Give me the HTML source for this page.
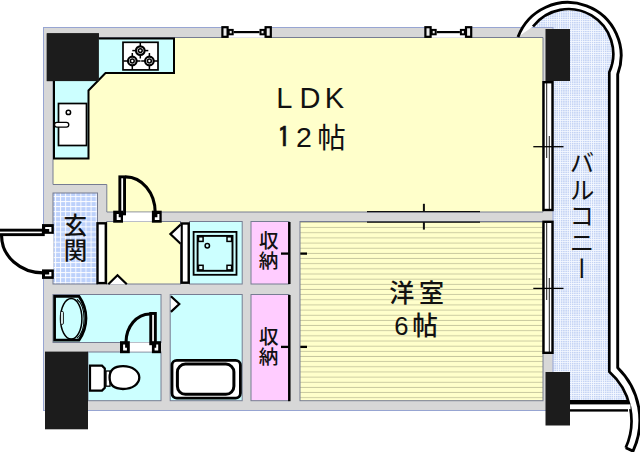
<!DOCTYPE html>
<html lang="ja">
<head>
<meta charset="utf-8">
<title>間取り図 1LDK</title>
<style>
html,body{margin:0;padding:0;background:#fff;}
body{width:640px;height:452px;overflow:hidden;}
svg{display:block;}
text{font-family:"Liberation Sans","Noto Sans CJK JP",sans-serif;fill:#111;}
.k{font-family:"Liberation Sans","Noto Sans CJK JP",sans-serif;font-weight:500;}
</style>
</head>
<body>
<svg width="640" height="452" viewBox="0 0 640 452">
<defs>
  <pattern id="tileB" width="2.2" height="2.2" patternUnits="userSpaceOnUse">
    <rect width="2.2" height="2.2" fill="#f4f8ff"/>
    <rect width="1.4" height="1.4" fill="#c0d0f3"/>
  </pattern>
  <pattern id="tileG" x="55.05" y="195.95" width="5.08" height="5.08" patternUnits="userSpaceOnUse">
    <rect width="5.08" height="5.08" fill="#bdd1fb"/>
    <rect width="0.95" height="5.08" fill="#fbfcff"/><rect width="5.08" height="0.95" fill="#fbfcff"/>
  </pattern>
  <pattern id="floor" x="300" y="222.9" width="10" height="5.155" patternUnits="userSpaceOnUse">
    <rect width="10" height="5.155" fill="#ffffcb"/>
    <rect y="4.25" width="10" height="0.7" fill="#b6b690"/>
  </pattern>
</defs>

<rect width="640" height="452" fill="#fff"/>

<!-- balcony tile -->
<path id="balc" d="M553,401 L553,28 L531,28 A48,48 0 0 1 615,70 L610,78 L610,372 Q622,386 628,401 Z" fill="url(#tileB)"/>

<!-- walls -->
<rect x="43.5" y="27.5" width="509.5" height="383" fill="#d7d7d7" stroke="#97a5d2" stroke-width="1"/>

<!-- rooms -->
<g stroke="#767c92" stroke-width="1">
<path d="M53,37.5 H543 V212 H106.8 V184.5 H53 Z" fill="#ffffcb"/>
<rect x="106.8" y="221.5" width="73.7" height="62.5" fill="#ffffcb"/>
<rect x="53" y="193" width="44.5" height="91" fill="url(#tileG)"/>
<rect x="189.5" y="221.5" width="52.7" height="62.5" fill="#ccffff"/>
<rect x="251" y="221.5" width="38" height="62.5" fill="#ffccff"/>
<rect x="300" y="221.5" width="243" height="179.2" fill="url(#floor)"/>
<rect x="53" y="294.5" width="108" height="48" fill="#ccffff"/>
<rect x="88" y="352" width="73" height="48.7" fill="#ccffff"/>
<rect x="170.2" y="294.5" width="72" height="106.2" fill="#ccffff"/>
<rect x="251" y="294.5" width="38" height="106.2" fill="#ffccff"/>
</g>

<!-- door openings (white) -->
<rect x="43" y="234" width="10.5" height="36" fill="#fff"/>
<rect x="122.5" y="212.5" width="29.5" height="9" fill="#fff"/>
<rect x="129" y="342.5" width="23.5" height="9" fill="#fff"/>

<!-- pillars -->
<g fill="#1c1c1c">
<rect x="46.8" y="33.3" width="52.1" height="47.8"/>
<rect x="45" y="351.6" width="43" height="77.7"/>
<rect x="545.5" y="29" width="24.5" height="52"/>
<rect x="545.5" y="372" width="24.5" height="53.5"/>
</g>

<!-- balcony railing -->
<path d="M518,37 A53.2,53.2 0 1 1 617.7,74.3 L617.7,367.8 A73.2,73.2 0 0 1 633,451.1 L625.7,447.7 A65.3,65.3 0 0 0 609.3,371.8 L609.3,72.3 A44.8,44.8 0 0 0 533,26.5 Z" fill="#fff"/>
<g fill="none" stroke="#000" stroke-linejoin="round">
<path d="M518,37 A53.2,53.2 0 1 1 617.7,74.3 L617.7,367.8 A73.2,73.2 0 0 1 633,451.1 L625.7,447.7" stroke-width="2.9"/>
<path d="M533,26.5 A44.8,44.8 0 0 1 609.3,72.3 L609.3,371.8 A65.3,65.3 0 0 1 625.7,447.7" stroke-width="2.7"/>
</g>
<rect x="570" y="400" width="58" height="11.6" fill="#000"/>
<rect x="570" y="404.4" width="60.5" height="4.8" fill="#fff"/>

<!-- sliding windows right -->
<g>
<rect x="543.5" y="82.2" width="9" height="127.8" fill="#fff" stroke="#000" stroke-width="2.4"/>
<rect x="543.5" y="221.8" width="9" height="131" fill="#fff" stroke="#000" stroke-width="2.4"/>
<g stroke="#000" stroke-width="0.9">
<line x1="546.7" y1="82" x2="546.7" y2="158"/>
<line x1="549.3" y1="136" x2="549.3" y2="211"/>
<line x1="546.7" y1="222" x2="546.7" y2="300"/>
<line x1="549.3" y1="278" x2="549.3" y2="354"/>
</g>
<g stroke="#000" stroke-width="1.3">
<line x1="533.3" y1="146.7" x2="563.5" y2="146.7"/>
<line x1="533.3" y1="288.4" x2="563.5" y2="288.4"/>
</g>
</g>

<!-- top windows -->
<g stroke="#000" stroke-width="2.2" fill="#ececec">
<rect x="227.3" y="26.8" width="38.6" height="11" fill="#fff" stroke="none"/>
<rect x="222.4" y="27.2" width="5.2" height="9.6"/>
<rect x="228.7" y="29.9" width="4" height="4.4" stroke-width="2"/>
<line x1="233.7" y1="32.1" x2="259.5" y2="32.1"/>
<rect x="260.5" y="29.9" width="4" height="4.4" stroke-width="2"/>
<rect x="265.6" y="27.2" width="5.2" height="9.6"/>
</g>
<g stroke="#000" stroke-width="2.2" fill="#ececec">
<rect x="430.3" y="26.8" width="36.0" height="11" fill="#fff" stroke="none"/>
<rect x="425.4" y="27.2" width="5.2" height="9.6"/>
<rect x="431.7" y="29.9" width="4" height="4.4" stroke-width="2"/>
<line x1="436.7" y1="32.1" x2="459.9" y2="32.1"/>
<rect x="460.9" y="29.9" width="4" height="4.4" stroke-width="2"/>
<rect x="466.0" y="27.2" width="5.2" height="9.6"/>
</g>

<!-- kitchen counter -->
<path d="M99,38.5 H174 V73 H105.5 L88.5,90.5 V158.4 H54 V81" fill="#ccffff" stroke="#000" stroke-width="2" stroke-linejoin="miter"/>
<rect x="46.8" y="33.3" width="52.1" height="47.8" fill="#1c1c1c"/>
<!-- stove -->
<rect x="123" y="42.3" width="35" height="27.6" fill="#fff" stroke="#000" stroke-width="1.7"/>
<g stroke="#000" fill="none">
<g stroke-width="1.5">
<line x1="140.3" y1="42.5" x2="140.3" y2="58.5"/><line x1="132.3" y1="50.6" x2="148.3" y2="50.6"/>
<line x1="132.3" y1="53" x2="132.3" y2="69.8"/><line x1="123.5" y1="61" x2="140.5" y2="61"/>
<line x1="149.4" y1="53" x2="149.4" y2="69.8"/><line x1="141.2" y1="61" x2="158" y2="61"/>
</g>
<g stroke-width="2.2" fill="#fff">
<circle cx="140.3" cy="50.6" r="4.3"/><circle cx="132.3" cy="61" r="4.3"/><circle cx="149.4" cy="61" r="4.3"/>
</g>
<g stroke-width="1.5">
<circle cx="140.3" cy="50.6" r="1.9"/><circle cx="132.3" cy="61" r="1.9"/><circle cx="149.4" cy="61" r="1.9"/>
</g>
</g>
<!-- sink -->
<rect x="58.5" y="103.5" width="28" height="42" fill="#fff" stroke="#000" stroke-width="1.7"/>
<circle cx="68.4" cy="112.4" r="2.2" fill="#fff" stroke="#000" stroke-width="1.5"/>
<rect x="54.5" y="122.3" width="14.3" height="4.8" rx="2.4" fill="#fff" stroke="#000" stroke-width="1.3"/>

<!-- LDK door -->
<g>
<rect x="119.85" y="176.85" width="4.7" height="37" fill="#fff" stroke="#000" stroke-width="2.9"/>
<path d="M125.5,176.9 A29.6,35.6 0 0 1 155.2,212.5" fill="none" stroke="#000" stroke-width="3.1"/>
<rect x="113.2" y="210.7" width="9.8" height="12" fill="#000"/><path d="M116.7,214 h2 v3.2 h2 v2.8 h-4 z" fill="#fff"/>
<rect x="151.9" y="210.7" width="9.8" height="12" fill="#000"/><path d="M159.4,214 h-2 v3.2 h-2.6 v2.8 h4.6 z" fill="#fff"/>
</g>

<!-- entrance door -->
<g>
<rect x="-3" y="230.15" width="46.3" height="4.5" fill="#fff" stroke="#000" stroke-width="2.9"/>
<path d="M1.6,236 A42,37 0 0 0 43.2,272.9" fill="none" stroke="#000" stroke-width="3.1"/>
<rect x="42" y="224.1" width="11.8" height="9.7" fill="#000"/><path d="M45.2,227.1 h6.2 v4.7 h-2.2 v-2.8 h-4 z" fill="#fff"/>
<rect x="42" y="269.4" width="11.8" height="9.5" fill="#000"/><path d="M51.4,271.9 v4.4 h-6.4 v-1.9 h4.2 v-2.5 z" fill="#fff"/>
</g>

<!-- WC door -->
<g>
<rect x="150.75" y="313.45" width="4.6" height="30.3" fill="#fff" stroke="#000" stroke-width="2.9"/>
<path d="M150,314 A24,28.5 0 0 0 126,342.5" fill="none" stroke="#000" stroke-width="3.1"/>
<rect x="120" y="341.2" width="9.8" height="12" fill="#000"/><path d="M123.1,344.6 h2 v3.2 h1.8 v2.6 h-3.8 z" fill="#fff"/>
<rect x="151.9" y="341.2" width="9.1" height="12" fill="#000"/><path d="M158.2,344.6 h-2 v3.2 h-1.6 v2.6 h3.6 z" fill="#fff"/>
</g>

<!-- shoe box & laundry door -->
<rect x="97.5" y="223.3" width="8.3" height="59.8" fill="#fff" stroke="#000" stroke-width="2.4"/>
<rect x="181.6" y="223.5" width="7.1" height="59.2" fill="#fff" stroke="#000" stroke-width="2.4"/>
<path d="M180.6,224.6 L170.4,234.1 L180.6,243.8" fill="#fff" stroke="#000" stroke-width="2.2" stroke-linejoin="miter"/>
<path d="M108.3,284.2 L117.5,275.2 L126.8,284.2" fill="#fff" stroke="#000" stroke-width="2.2" stroke-linejoin="miter"/>
<path d="M170.9,296.2 L179.3,304 L170.9,311.9" fill="#fff" stroke="#000" stroke-width="2.2" stroke-linejoin="miter"/>

<!-- washing machine pan -->
<g fill="none" stroke="#000">
<rect x="193.6" y="231.9" width="42.9" height="42.9" stroke-width="1.8"/>
<rect x="197.6" y="235.9" width="34.9" height="34.9" stroke-width="1.9" fill="#ccffff"/>
<g stroke-width="1.5" fill="#e4ffff">
<rect x="198.5" y="236.8" width="4.6" height="4.6"/><rect x="227" y="236.8" width="4.6" height="4.6"/>
<rect x="198.5" y="265.3" width="4.6" height="4.6"/><rect x="227" y="265.3" width="4.6" height="4.6"/>
<circle cx="207.3" cy="245.7" r="2.2" fill="#ccffff"/>
</g>
</g>

<!-- closet lines -->
<g stroke="#000">
<line x1="289.3" y1="222" x2="289.3" y2="284" stroke-width="2.5"/>
<line x1="289.3" y1="295" x2="289.3" y2="401.2" stroke-width="2.5"/>
<g stroke-width="2.3">
<line x1="281" y1="253.6" x2="289" y2="253.6"/><line x1="300.3" y1="253.6" x2="307" y2="253.6"/>
<line x1="281" y1="346.9" x2="289" y2="346.9"/><line x1="300.3" y1="346.9" x2="307" y2="346.9"/>
</g>
</g>
<!-- LDK / western room sliding partition -->
<g stroke="#111">
<line x1="367" y1="211.6" x2="480" y2="211.6" stroke-width="1.4"/>
<line x1="367" y1="222.1" x2="480" y2="222.1" stroke-width="1.4"/>
<line x1="423.9" y1="203.8" x2="423.9" y2="211.6" stroke-width="2"/>
<line x1="423.9" y1="222.1" x2="423.9" y2="229.6" stroke-width="2"/>
</g>

<!-- washbasin -->
<path d="M54.6,296.4 H79 A37.5,37.5 0 0 1 79,340.1 H54.6 Z" fill="#ccffff" stroke="#000" stroke-width="2.7" stroke-linejoin="miter"/>
<ellipse cx="71.2" cy="318.7" rx="10.7" ry="20.3" fill="none" stroke="#000" stroke-width="1.5"/>
<path d="M77,299.3 A11.5,21 0 0 1 77,338.1" fill="none" stroke="#000" stroke-width="1.1"/>
<rect x="60.6" y="311.4" width="2.8" height="13" rx="1.2" fill="#eaffff" stroke="#000" stroke-width="0.9"/>

<!-- toilet -->
<path d="M90,365.6 H102 L104.8,368.4 V387.8 L102,390.6 H90 Z" fill="#fff" stroke="#000" stroke-width="2.2"/>
<rect x="106" y="371" width="4" height="15.2" fill="#fff" stroke="#000" stroke-width="1.3"/>
<path d="M109.6,377.6 C109.6,369.2 115.5,366.2 123,366.2 C132.8,366.2 139.3,371.4 139.3,377.6 C139.3,383.8 132.8,389 123,389 C115.5,389 109.6,386 109.6,377.6 Z" fill="#fff" stroke="#000" stroke-width="2.3"/>

<!-- bathtub -->
<rect x="172" y="360.3" width="68.4" height="37.8" rx="4.8" fill="#fff" stroke="#000" stroke-width="2.8"/>
<rect x="177.4" y="364.1" width="56.5" height="30.2" rx="8" fill="#fff" stroke="#000" stroke-width="3"/>

<!-- text -->
<text x="276.2 299.4 324.8" y="108.4" font-size="29">LDK</text>
<text x="277.2 296 317.2" y="147.3 147.3 148" font-size="28.5"><tspan font-size="27" stroke="#111" stroke-width="0.7" style="font-family:'IPAGothic','Liberation Sans',sans-serif">1</tspan>2帖</text>
<text class="k" x="389.2 418.9" y="302.4" font-size="25">洋室</text>
<text class="k" x="394.2 412.2" y="335" font-size="25.6" style="font-family:'Liberation Sans','Noto Sans CJK JP',sans-serif">6帖</text>
<text class="k" x="75.2 75.5" y="234 259" font-size="23.5" text-anchor="middle">玄関</text>
<text class="k" x="268.7 268.6" y="248.1 267.8" font-size="19.6" text-anchor="middle">収納</text>
<text class="k" x="268.7 268.6" y="344 363.6" font-size="19.6" text-anchor="middle">収納</text>
<text class="k" x="580" y="150" font-size="25" writing-mode="vertical-rl" style="writing-mode:vertical-rl;letter-spacing:1.5px;font-weight:400">バルコニー</text>
</svg>
</body>
</html>
